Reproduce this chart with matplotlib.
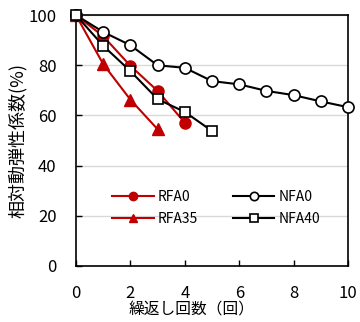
import matplotlib
matplotlib.use("Agg")
import matplotlib.pyplot as plt

plt.rcParams['font.family'] = ['Noto Sans CJK JP', 'DejaVu Sans']

# data
x_rfa0 = [0, 1, 2, 3, 4]
y_rfa0 = [100, 91.6, 79.8, 69.8, 57.1]
x_rfa35 = [0, 1, 2, 3]
y_rfa35 = [100, 80.5, 66.3, 54.5]
x_nfa0 = [0, 1, 2, 3, 4, 5, 6, 7, 8, 9, 10]
y_nfa0 = [100, 93.3, 88.0, 80.0, 79.0, 73.7, 72.4, 69.8, 68.1, 65.6, 63.3]
x_nfa40 = [0, 1, 2, 3, 4, 5]
y_nfa40 = [100, 87.8, 77.7, 66.5, 61.4, 53.8]

xticks = [0, 2, 4, 6, 8, 10]
yticks = [0, 20, 40, 60, 80, 100]

red = '#C00000'

fig = plt.figure(figsize=(3.6, 3.22), dpi=100)
ax = fig.add_axes([0.211, 0.174, 0.756, 0.779])

ax.plot(x_rfa0, y_rfa0, color=red, lw=1.5, marker='o', ms=8,
        mfc=red, mec=red, label='RFA0', zorder=3, clip_on=False)
ax.plot(x_rfa35, y_rfa35, color=red, lw=1.5, marker='^', ms=8,
        mfc=red, mec=red, label='RFA35', zorder=3, clip_on=False)
ax.plot(x_nfa0, y_nfa0, color='black', lw=1.5, marker='o', ms=8,
        mfc='white', mec='black', mew=1.2, label='NFA0', zorder=3,
        clip_on=False)
ax.plot(x_nfa40, y_nfa40, color='black', lw=1.5, marker='s', ms=7.5,
        mfc='white', mec='black', mew=1.2, label='NFA40', zorder=3,
        clip_on=False)

ax.set_xlim(0, 10)
ax.set_ylim(0, 100)
ax.set_xticks(xticks)
ax.set_yticks(yticks)
ax.yaxis.grid(True, color='#D9D9D9', lw=1)
ax.set_axisbelow(True)
ax.tick_params(direction='in', length=4, width=1, labelsize=12)
ax.tick_params(axis='x', pad=14)
ax.tick_params(axis='y', pad=14)
for s in ax.spines.values():
    s.set_linewidth(1.2)

ax.set_xlabel('繰返し回数（回）', fontsize=11.3)
ax.xaxis.label.set_va('center')
ax.xaxis.set_label_coords(0.423, -0.176)
ax.set_ylabel('相対動弾性係数(%)', fontsize=13, labelpad=1)

ax.legend(ncol=2, frameon=False, fontsize=10, loc='center',
          bbox_to_anchor=(0.515, 0.231), handlelength=3.0, markerscale=0.75,
          columnspacing=2.5, handletextpad=0.3, labelspacing=0.55)

fig.savefig('out.png', dpi=100)
